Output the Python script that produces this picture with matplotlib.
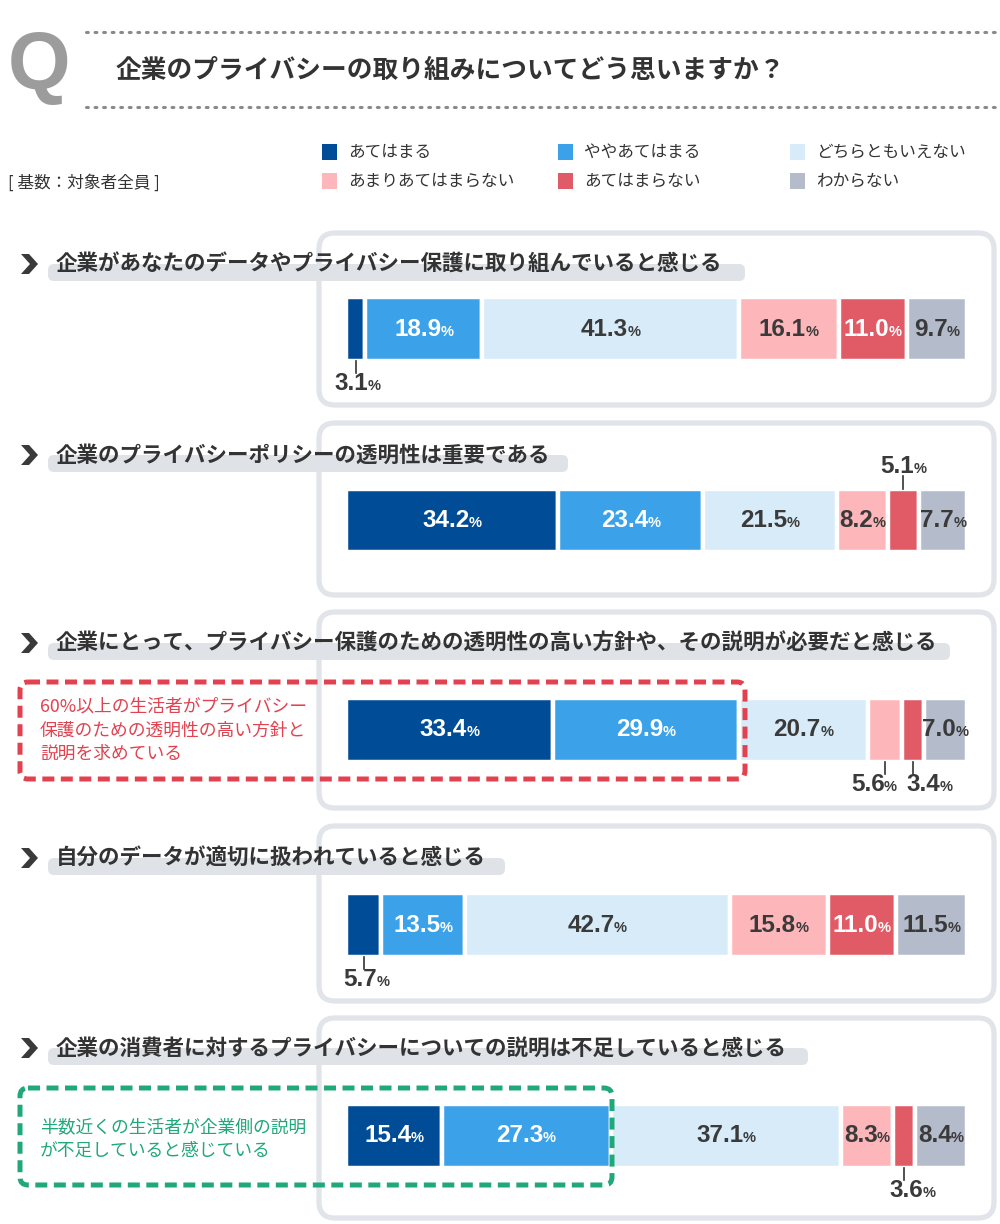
import matplotlib
matplotlib.use("Agg")
import matplotlib.pyplot as plt
from matplotlib.patches import FancyBboxPatch, Rectangle, Polygon
from matplotlib.offsetbox import TextArea, HPacker, AnnotationBbox

plt.rcParams['font.family'] = ['Noto Sans CJK JP', 'DejaVu Sans']
NUM_FONT = ['Liberation Sans', 'DejaVu Sans']

# Data
categories = ["あてはまる", "ややあてはまる", "どちらともいえない",
              "あまりあてはまらない", "あてはまらない", "わからない"]
questions = [
    "企業があなたのデータやプライバシー保護に取り組んでいると感じる",
    "企業のプライバシーポリシーの透明性は重要である",
    "企業にとって、プライバシー保護のための透明性の高い方針や、その説明が必要だと感じる",
    "自分のデータが適切に扱われていると感じる",
    "企業の消費者に対するプライバシーについての説明は不足していると感じる",
]
q1_values = [3.1, 18.9, 41.3, 16.1, 11.0, 9.7]
q2_values = [34.2, 23.4, 21.5, 8.2, 5.1, 7.7]
q3_values = [33.4, 29.9, 20.7, 5.6, 3.4, 7.0]
q4_values = [5.7, 13.5, 42.7, 15.8, 11.0, 11.5]
q5_values = [15.4, 27.3, 37.1, 8.3, 3.6, 8.4]
all_values = [q1_values, q2_values, q3_values, q4_values, q5_values]

colors = ["#004C97", "#3BA1E8", "#D7EBF8", "#FDB6BA", "#E15B67", "#B4BBCB"]
text_colors = ["white", "white", "#3A3A3A", "#3A3A3A", "white", "#3A3A3A"]
DARK = "#333333"
NUM_DARK = "#3A3A3A"

W, H = 1000, 1224
fig = plt.figure(figsize=(W / 100, H / 100), dpi=100)
bg = fig.add_axes([0, 0, 1, 1])
bg.set_xlim(0, W)
bg.set_ylim(H, 0)
bg.axis("off")

PX = 0.72  # px -> pt

# Header
bg.text(39, 68, "Q", fontsize=58, fontweight="bold", color="#9C9C9C",
        ha="center", va="center", family=['Liberation Sans', 'DejaVu Sans'])
for yy in (32, 107):
    bg.plot([86, 1000], [yy, yy], color="#8A8A8A", lw=2.2,
            linestyle=(0, (0.6, 2.2)), solid_capstyle="round", dash_capstyle="round")
bg.text(116, 71, "企業のプライバシーの取り組みについてどう思いますか？",
        fontsize=18.5, fontweight="bold", color=DARK, va="center", ha="left")

# Legend
leg_x = [322, 558, 790]
leg_y = [152, 181]
for i, (cat, col) in enumerate(zip(categories, colors)):
    x0 = leg_x[i % 3]
    y0 = leg_y[i // 3]
    bg.add_patch(Rectangle((x0, y0 - 8), 15, 16, facecolor=col, edgecolor="none"))
    bg.text(x0 + 26, y0, cat, fontsize=12, color=DARK, va="center", ha="left")
bg.text(8, 183, "[ 基数：対象者全員 ]", fontsize=12, color=DARK, va="center", ha="left")

# Layout per question (pixels)
panels = [(233, 405), (423, 595), (612, 808), (826, 1001), (1018, 1218)]
title_y = [264, 455, 643, 858, 1048]
band_end = [745, 568, 950, 505, 808]
bars_y = [(297, 361), (489, 552), (698, 762), (893, 957), (1104, 1168)]
outside = [
    {0: ("below", 2)},
    {4: ("above", 0)},
    {3: ("below", -11), 4: ("below", 17)},
    {0: ("below", 3)},
    {4: ("below", 9)},
]
BAR_X0, BAR_X1 = 346, 967


def pct_box(val, color):
    t1 = TextArea(f"{val:.1f}", textprops=dict(fontsize=17.5, fontweight="bold",
                                                color=color, family=NUM_FONT))
    t2 = TextArea("%", textprops=dict(fontsize=10.5, fontweight="bold",
                                       color=color, family=NUM_FONT))
    return HPacker(children=[t1, t2], align="baseline", pad=0, sep=-0.5)


for k in range(5):
    top, bot = panels[k]
    bg.add_patch(FancyBboxPatch((319, top), 675, bot - top,
                                boxstyle="round,pad=0,rounding_size=16",
                                facecolor="white", edgecolor="#E1E5EA", lw=3.8, zorder=1))
    ty = title_y[k]
    bg.add_patch(FancyBboxPatch((48, ty), band_end[k] - 48, 17,
                                boxstyle="round,pad=0,rounding_size=6",
                                facecolor="#DFE2E7", edgecolor="none", zorder=2))
    bg.add_patch(Polygon([(21, ty - 10), (29, ty - 10), (38, ty), (29, ty + 10),
                          (21, ty + 10), (30, ty)], closed=True,
                         facecolor="#3A3A3A", edgecolor="none", zorder=3))
    bg.text(56, ty, questions[k], fontsize=15.5, fontweight="bold", color=DARK,
            va="center", ha="left", zorder=4)

    # bar axes
    y0, y1 = bars_y[k]
    ax = fig.add_axes([BAR_X0 / W, 1 - y1 / H, (BAR_X1 - BAR_X0) / W, (y1 - y0) / H])
    vals = all_values[k]
    total = sum(vals)
    ax.set_xlim(0, total)
    ax.set_ylim(-0.5, 0.5)
    ax.axis("off")
    left = 0
    for i, v in enumerate(vals):
        ax.barh(0, v, left=left, height=1.0, color=colors[i], edgecolor="white", lw=3.2)
        c = left + v / 2
        if i in outside[k]:
            side, dx = outside[k][i]
            if side == "below":
                ax.plot([c, c], [-0.5, -0.68], color=DARK, lw=1.2, clip_on=False)
                ab = AnnotationBbox(pct_box(v, NUM_DARK), (c, -0.49), xybox=(dx * PX, -16.5),
                                    xycoords="data", boxcoords="offset points",
                                    frameon=False, box_alignment=(0.5, 0.5),
                                    annotation_clip=False)
            else:
                ax.plot([c, c], [0.5, 0.7], color=DARK, lw=1.2, clip_on=False)
                ab = AnnotationBbox(pct_box(v, NUM_DARK), (c, 0.49), xybox=(dx * PX, 17),
                                    xycoords="data", boxcoords="offset points",
                                    frameon=False, box_alignment=(0.5, 0.5),
                                    annotation_clip=False)
        else:
            ab = AnnotationBbox(pct_box(v, text_colors[i]), (c, 0), xycoords="data",
                                frameon=False, box_alignment=(0.5, 0.5),
                                annotation_clip=False)
        ax.add_artist(ab)
        left += v

# Callout overlays
top_ax = fig.add_axes([0, 0, 1, 1])
top_ax.set_xlim(0, W)
top_ax.set_ylim(H, 0)
top_ax.axis("off")
top_ax.patch.set_alpha(0)

RED = "#E2424F"
GREEN = "#20A879"
top_ax.add_patch(FancyBboxPatch((20, 682), 725, 97, boxstyle="round,pad=0,rounding_size=8",
                                facecolor="none", edgecolor=RED, lw=3.6,
                                linestyle=(0, (2.4, 1.3))))
for i, line in enumerate(["60%以上の生活者がプライバシー", "保護のための透明性の高い方針と",
                          "説明を求めている"]):
    top_ax.text(40, 707 + i * 23.5, line, fontsize=12.8, color=RED, va="center", ha="left")

top_ax.add_patch(FancyBboxPatch((20, 1088), 592, 97, boxstyle="round,pad=0,rounding_size=8",
                                facecolor="none", edgecolor=GREEN, lw=3.6,
                                linestyle=(0, (2.4, 1.3))))
for i, line in enumerate(["半数近くの生活者が企業側の説明", "が不足していると感じている"]):
    top_ax.text(40, 1127 + i * 23.5, line, fontsize=12.8, color=GREEN, va="center", ha="left")

fig.savefig("out.png", dpi=100)
